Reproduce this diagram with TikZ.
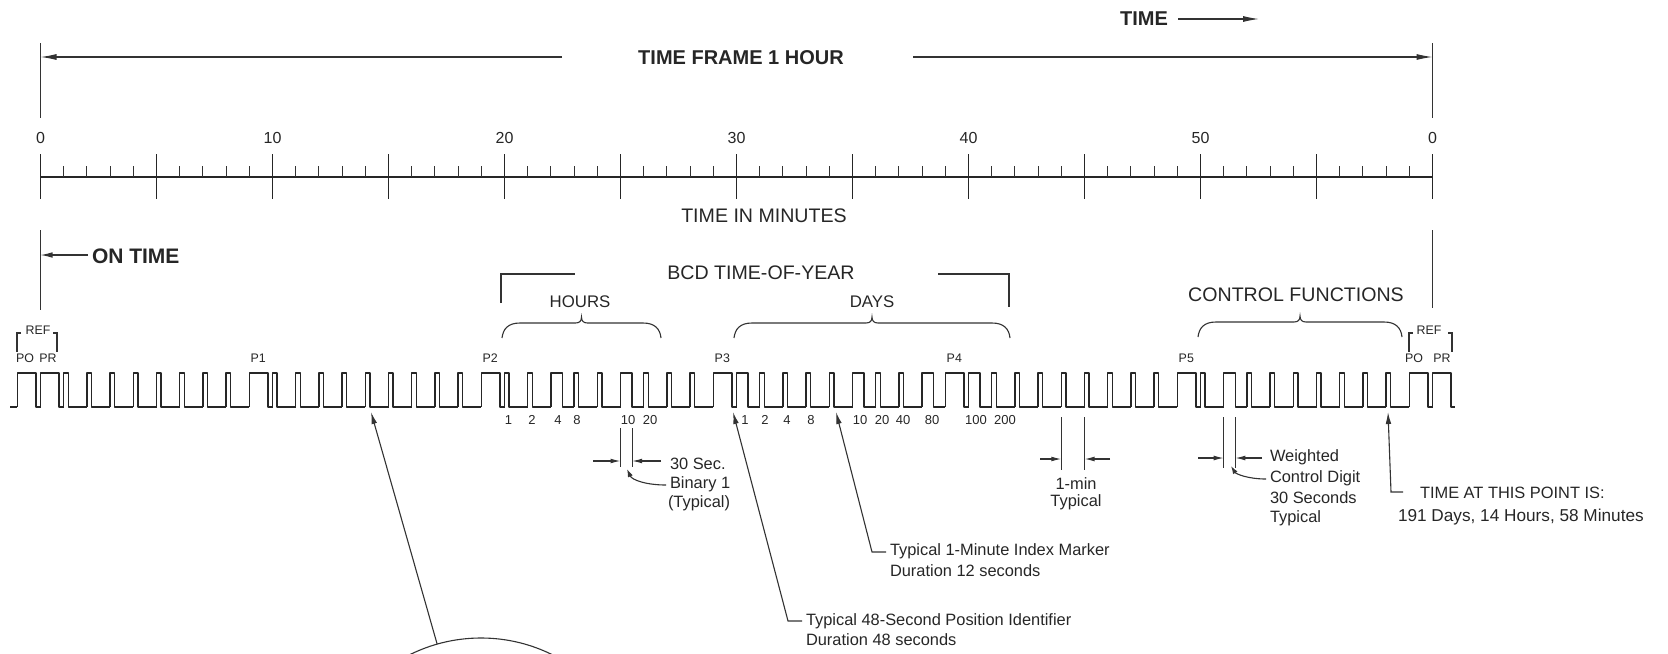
\documentclass[tikz,border=0pt]{standalone}
\usepackage{fontspec}
\setmainfont{Liberation Sans}
\usetikzlibrary{arrows.meta}
\newcommand\fsz[1]{\fontsize{#1}{#1}\selectfont}
\newcommand\mybrace[3]{%
  \pgfmathsetmacro\bm{(#1+#2)/2}%
  \draw[ln] (#1,#3) .. controls (#1+1,#3-9) and (#1+6,#3-15) .. (#1+18,#3-15)
     -- (\bm-6,#3-15) .. controls (\bm-2,#3-15) and (\bm,#3-17) .. (\bm,#3-21)
     .. controls (\bm,#3-17) and (\bm+2,#3-15) .. (\bm+6,#3-15)
     -- (#2-18,#3-15) .. controls (#2-6,#3-15) and (#2-1,#3-9) .. (#2,#3);}
\begin{document}
\begin{tikzpicture}[x=0.5pt,y=-0.5pt,
  every node/.style={inner sep=0pt,outer sep=0pt,text=black!85},
  ln/.style={line width=0.55pt,draw=black!80},
  axisln/.style={line width=0.8pt,draw=black!85},
  wave/.style={line width=0.7pt,draw=black!85,line join=round},
  boldlbl/.style={font=\fsz{10}\bfseries},
  lbl/.style={font=\fsz{9.8}},
  sublbl/.style={font=\fsz{8.4}},
  num/.style={font=\fsz{8}},
  plbl/.style={font=\fsz{6.2}},
  reflbl/.style={font=\fsz{6.2}},
  bitlbl/.style={font=\fsz{6.5}},
  ann/.style={font=\fsz{8.2},anchor=west},
  annc/.style={font=\fsz{8.2}},
  bigtip/.style={-{Latex[length=8pt,width=3pt]}},
  arrowtip/.style={-{Latex[length=6pt,width=2.8pt]}},
  dimtip/.style={-{Latex[length=5pt,width=2.4pt]}},
  smalltip/.style={-{Latex[length=4pt,width=2.6pt]}},
]
\useasboundingbox (0,0) rectangle (1668,653);

% ---- TIME arrow
\node[boldlbl] (time) at (1144,19) {TIME};
\coordinate (timeA) at (1178,19);
\coordinate (timeB) at (1259,19);
\draw[ln,bigtip] (timeA) -- (timeB);

% ---- time frame
\coordinate (lt) at (40.5,43); \coordinate (lb) at (40.5,118);
\coordinate (rt) at (1432.5,43); \coordinate (rb) at (1432.5,118);
\draw[ln] (lt) -- (lb);
\draw[ln] (rt) -- (rb);
\node[boldlbl] (frame) at (741,58) {TIME FRAME 1 HOUR};
\coordinate (fl) at (40.5,57); \coordinate (fr) at (1432.5,57);
\coordinate (fl2) at (562,57); \coordinate (fr2) at (913,57);
\draw[ln,bigtip] (fl2) -- (fl);
\draw[ln,bigtip] (fr2) -- (fr);

% ---- minute scale
\coordinate (ax0) at (40.5,177); \coordinate (ax60) at (1432.5,177);
\draw[axisln] (ax0) -- (ax60);
\foreach \m in {0,...,60} \draw[ln] ({40.5+23.2*\m},166) -- ({40.5+23.2*\m},177);
\foreach \m in {0,5,...,60} \draw[axisln] ({40.5+23.2*\m},154) -- ({40.5+23.2*\m},199);
\foreach \m/\t in {0/0,10/10,20/20,30/30,40/40,50/50,60/0}
  \node[num] (n\m) at ({40.5+23.2*\m},138) {\t};
\node[lbl] (tim) at (764,216) {TIME IN MINUTES};

% ---- on time
\coordinate (ot1) at (40.5,230); \coordinate (ot2) at (40.5,310);
\coordinate (ot3) at (1432.5,230); \coordinate (ot4) at (1432.5,308);
\draw[ln] (ot1) -- (ot2);
\draw[ln] (ot3) -- (ot4);
\node[boldlbl,font=\fsz{10.5}\bfseries,anchor=west] (ontime) at (92,256) {ON TIME};
\coordinate (otA) at (88,255); \coordinate (otB) at (40.5,255);
\draw[ln,arrowtip] (otA) -- (otB);

% ---- BCD bracket
\node[lbl] (bcd) at (761,273) {BCD TIME-OF-YEAR};
\draw[ln] (501,303) -- (501,274) -- (575,274);
\draw[ln] (938,274) -- (1009,274) -- (1009,307);

\node[sublbl] (hours) at (580,302) {HOURS};
\node[sublbl] (days) at (872,302) {DAYS};
\node[lbl] (ctrl) at (1296,295) {CONTROL FUNCTIONS};
\mybrace{502}{661}{338}
\mybrace{734}{1010}{338}
\mybrace{1198}{1402}{337}

% ---- REF brackets
\node[reflbl] (refl) at (38,330) {REF};
\draw[ln] (21,333) -- (17,333) -- (17,352);
\draw[ln] (53,333) -- (57,333) -- (57,352);
\node[plbl] (pol) at (25,358) {PO};
\node[plbl] (prl) at (48,358) {PR};
\node[reflbl] (refr) at (1429,330) {REF};
\draw[ln] (1413,333) -- (1409,333) -- (1409,352);
\draw[ln] (1448,333) -- (1452,333) -- (1452,352);
\node[plbl] (por) at (1414,358) {PO};
\node[plbl] (prr) at (1442,358) {PR};
\foreach \m/\t in {9/P1,19/P2,29/P3,39/P4,49/P5}
  \node[plbl] (p\m) at ({40.5+23.2*\m+9},358) {\t};

% ---- waveform
\draw[wave] (10,407) -- (17.3,407);
\foreach \m/\d in {-1/18.6,0/18.6,1/4.6,2/4.6,3/4.6,4/4.6,5/4.6,6/4.6,7/4.6,8/4.6,9/18.6,
  10/4.6,11/4.6,12/4.6,13/4.6,14/4.6,15/4.6,16/4.6,17/4.6,18/4.6,19/18.6,
  20/4.6,21/4.6,22/11.6,23/4.6,24/4.6,25/11.6,26/4.6,27/4.6,28/4.6,29/18.6,
  30/11.6,31/4.6,32/4.6,33/4.6,34/4.6,35/11.6,36/4.6,37/4.6,38/11.6,39/18.6,
  40/11.6,41/4.6,42/4.6,43/4.6,44/4.6,45/4.6,46/4.6,47/4.6,48/4.6,49/18.6,
  50/4.6,51/11.6,52/4.6,53/4.6,54/4.6,55/4.6,56/4.6,57/4.6,58/4.6,59/18.6}
  \draw[wave] ({40.5+23.2*(\m)},407) -- ++(0,-34) -- ++(\d,0) -- ++(0,34) -- ({40.5+23.2*(\m+1)},407);
\draw[wave] (1432.5,407) -- ++(0,-34) -- ++(18.6,0) -- ++(0,34) -- (1455,407);

% ---- bit weights
\foreach \x/\t in {508.6/1,532/2,558/4,577/8,628/10,650/20,
  745/1,765/2,787/4,811/8,860/10,882/20,903/40,932/80,976/100,1005/200}
  \node[bitlbl] at (\x,420) {\t};

% ---- 30 sec binary 1
\draw[ln] (620.5,428) -- (620.5,467);
\draw[ln] (632.1,428) -- (632.1,467);
\coordinate (s1) at (593,461); \coordinate (s2) at (620.5,461);
\coordinate (s3) at (661,461); \coordinate (s4) at (632.1,461);
\draw[ln,dimtip] (s1) -- (s2);
\draw[ln,dimtip] (s3) -- (s4);
\node[ann] (sec30) at (670,464) {30 Sec.};
\node[ann] (bin1) at (670,484) {Binary 1};
\node[ann] (typ1) at (668,503) {(Typical)};
\draw[ln,smalltip] (666,485) .. controls (646,485) and (632,480) .. (627,469);

% ---- 1-min typical
\draw[ln] (1061.3,417) -- (1061.3,470);
\draw[ln] (1084.5,417) -- (1084.5,470);
\coordinate (m1) at (1040,459); \coordinate (m2) at (1061.3,459);
\coordinate (m3) at (1110,459); \coordinate (m4) at (1084.5,459);
\draw[ln,dimtip] (m1) -- (m2);
\draw[ln,dimtip] (m3) -- (m4);
\node[annc] (min1) at (1076,484) {1-min};
\node[annc] (typ2) at (1076,502) {Typical};

% ---- weighted control digit
\draw[ln] (1223.7,417) -- (1223.7,468);
\draw[ln] (1235.3,417) -- (1235.3,468);
\coordinate (w1) at (1198,458); \coordinate (w2) at (1223.7,458);
\coordinate (w3) at (1262,458); \coordinate (w4) at (1235.3,458);
\draw[ln,dimtip] (w1) -- (w2);
\draw[ln,dimtip] (w3) -- (w4);
\node[ann] (wt) at (1270,457) {Weighted};
\node[ann] (cd) at (1270,478) {Control Digit};
\node[ann] (s30) at (1270,498) {30 Seconds};
\node[ann] (typ3) at (1270,518) {Typical};
\draw[ln,smalltip] (1266,479) .. controls (1248,479) and (1236,474) .. (1231,466);

% ---- time at this point
\coordinate (tp) at (1388,412); \coordinate (tpc) at (1391,492); \coordinate (tpe) at (1403,492);
\draw[ln,arrowtip] (tpe) -- (tpc) -- (tp);
\node[ann] (tat) at (1420,493) {TIME AT THIS POINT IS:};
\node[ann,font=\fsz{8.6}] (tval) at (1398,517) {191 Days, 14 Hours, 58 Minutes};

% ---- 12 s index marker
\coordinate (t12) at (836,412); \coordinate (c12) at (872,552); \coordinate (e12) at (886,552);
\draw[ln,arrowtip] (e12) -- (c12) -- (t12);
\node[ann] (idx) at (890,551) {Typical 1-Minute Index Marker};
\node[ann] (d12) at (890,571) {Duration 12 seconds};

% ---- 48 s position identifier
\coordinate (t48) at (733,412); \coordinate (c48) at (788,621); \coordinate (e48) at (802,621);
\draw[ln,arrowtip] (e48) -- (c48) -- (t48);
\node[ann] (pid) at (806,621) {Typical 48-Second Position Identifier};
\node[ann] (d48) at (806,640) {Duration 48 seconds};

% ---- magnifier circle
\begin{scope}
\clip (0,0) rectangle (1668,653);
\node[circle,draw=black!80,line width=0.55pt,minimum size=160pt] (lens) at (481,798) {};
\coordinate (ctip) at (371,412);
\draw[ln,arrowtip] (lens) -- (ctip);
\end{scope}
\end{tikzpicture}
\end{document}
